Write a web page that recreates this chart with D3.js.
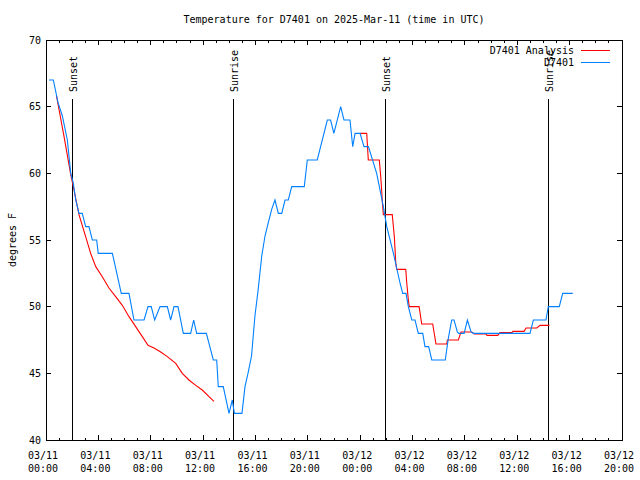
<!DOCTYPE html>
<html>
<head>
<meta charset="utf-8">
<script src="https://cdn.jsdelivr.net/npm/d3@7"></script>
<style>
  html, body { margin: 0; padding: 0; background: #fff; }
  svg { display: block; }
  text { font-family: "DejaVu Sans Mono", "Liberation Mono", monospace; font-size: 10px; fill: #000; }
</style>
</head>
<body>
<svg id="chart" width="640" height="480"></svg>
<script>
// ---- data (hours since 2025-03-11 00:00 UTC, degrees F) ----
const titleText = "Temperature for D7401 on 2025-Mar-11 (time in UTC)";
const yLabel = "degrees F";
const seriesNames = ["D7401 Analysis", "D7401"];

const obsHours = [0.23,0.56,0.92,1.25,1.63,1.89,2.08,2.27,2.52,2.77,3.03,3.28,3.54,3.87,3.99,5.07,5.75,6.34,6.72,7.49,7.79,8.04,8.30,8.71,9.27,9.52,9.78,10.08,10.49,11.05,11.28,11.51,12.25,12.78,13.04,13.16,13.54,13.98,14.23,14.39,14.97,15.20,15.43,15.70,15.96,16.21,16.48,16.73,16.98,17.24,17.49,17.75,18.01,18.26,18.51,18.77,19.73,19.96,20.72,21.49,21.74,21.99,22.51,22.76,23.22,23.43,23.61,23.99,24.29,24.63,25.26,25.77,26.03,26.54,26.82,27.05,27.25,27.50,27.68,27.94,28.19,28.44,28.78,28.95,29.23,29.47,30.50,30.73,30.99,31.17,31.42,31.53,31.94,32.19,32.47,32.64,36.97,37.23,38.19,38.37,39.21,39.47,40.24];
const obsTemps = [67,67,65.3,64.3,62.5,60,59.3,58,57,57,56,56,55,55,54,54,51,51,49,49,50,50,49,50,50,49,50,50,48,48,49,48,48,46,46,44,44,42,43,42,42,44,45,46.3,49.3,51.3,53.8,55.3,56.3,57.3,58,57,57,58,58,59,59,61,61,64,64,63,65,64,64,62,63,63,62,62,60,57.5,56,54,52.75,51.75,51,51,50,49,49,48,48,47,47,46,46,47.6,49,49,48.1,48,48,49,48.1,48,48,49,49,50,50,51,51];

const anaHours1 = [0.80,0.86,1.38,1.89,2.14,2.52,3.03,3.41,3.80,4.30,4.81,5.32,5.83,6.34,6.85,7.36,7.79,8.25,8.76,9.27,9.91,10.41,10.92,11.44,11.94,12.45,12.83];
const anaTemps1 = [65.8,65.5,62.75,59.9,58.75,56.9,55.25,54,53,52.25,51.4,50.75,50.1,49.25,48.5,47.75,47.1,46.9,46.6,46.25,45.75,45.0,44.5,44.1,43.75,43.25,42.9];
const anaHours2 = [23.99,24.50,24.62,25.46,25.57,25.64,25.69,25.77,26.45,26.61,26.72,26.79,27.48,27.56,27.68,27.75,28.50,28.70,29.54,29.79,30.61,30.66,31.50,31.70,32.52,32.72,33.61,33.69,34.51,34.68,35.58,35.67,36.52,36.67,37.49,37.74,38.45];
const anaTemps2 = [63,63,61,61,59.75,58.75,57.9,56.9,56.9,55.25,53.25,52.8,52.8,51.75,50.5,50.0,50.0,48.7,48.7,47.2,47.2,47.5,47.5,48.1,48.1,47.95,47.95,47.85,47.85,48.05,48.05,48.15,48.15,48.4,48.4,48.6,48.6];

const sunHours = [2.06, 14.36, 25.97, 38.35];
const sunLabels = ["Sunset", "Sunrise", "Sunset", "Sunrise"];

const yTicks = [40,45,50,55,60,65,70];
const yDomain = [40, 70];
const xStartHour = 0, xEndHour = 44;

// ---- layout ----
const base = Date.UTC(2025, 2, 11, 0, 0);
const toDate = h => new Date(base + h * 3600000);
const svg = d3.select("#chart");
const L = 46, R = 622, T = 40, B = 440;
const colors = ["#ff0000", "#0080ff"];

const x = d3.scaleUtc().domain([toDate(xStartHour), toDate(xEndHour)]).range([L, R]);
const y = d3.scaleLinear().domain(yDomain).range([B, T]);

const g = svg.append("g").attr("shape-rendering", "crispEdges");

// ticks (inward, mirrored)
const majorX = x.ticks(d3.utcHour.every(4));
const minorX = x.ticks(d3.utcHour.every(1));
minorX.forEach(d => {
  const major = d.getUTCHours() % 4 === 0;
  const len = major ? 5 : 2.5;
  g.append("line").attr("x1", x(d)).attr("x2", x(d)).attr("y1", B).attr("y2", B - len).attr("stroke", "#000");
  g.append("line").attr("x1", x(d)).attr("x2", x(d)).attr("y1", T).attr("y2", T + len).attr("stroke", "#000");
});
yTicks.forEach(v => {
  g.append("line").attr("x1", L).attr("x2", L + 5).attr("y1", y(v)).attr("y2", y(v)).attr("stroke", "#000");
  g.append("line").attr("x1", R).attr("x2", R - 5).attr("y1", y(v)).attr("y2", y(v)).attr("stroke", "#000");
  svg.append("text").attr("x", L - 5).attr("y", y(v)).attr("dy", "0.35em").attr("text-anchor", "end").text(v);
});

const fmtD = d3.utcFormat("%m/%d"), fmtT = d3.utcFormat("%H:%M");
majorX.forEach(d => {
  const t = svg.append("text").attr("text-anchor", "middle").attr("x", x(d) - 3);
  t.append("tspan").attr("x", x(d) - 3).attr("y", 459).text(fmtD(d));
  t.append("tspan").attr("x", x(d) - 3).attr("y", 472).text(fmtT(d));
});

// sunrise/sunset lines
sunHours.forEach((h, i) => {
  g.append("line").attr("x1", x(toDate(h))).attr("x2", x(toDate(h))).attr("y1", 99).attr("y2", B).attr("stroke", "#000");
  svg.append("text").attr("transform", `translate(${x(toDate(h)) + 1},92) rotate(-90)`)
    .attr("dy", "0.35em").attr("text-anchor", "start").text(sunLabels[i]);
});

// data lines
const line = d3.line().x(d => x(toDate(d[0]))).y(d => y(d[1]));
const lineG = svg.append("g").attr("fill", "none").attr("stroke-width", 1.1);
lineG.append("path").attr("d", line(anaHours1.map((h, i) => [h, anaTemps1[i]]))).attr("stroke", colors[0]);
lineG.append("path").attr("d", line(anaHours2.map((h, i) => [h, anaTemps2[i]]))).attr("stroke", colors[0]);
lineG.append("path").attr("d", line(obsHours.map((h, i) => [h, obsTemps[i]]))).attr("stroke", colors[1]);

// border
g.append("rect").attr("x", L).attr("y", T).attr("width", R - L).attr("height", B - T)
  .attr("fill", "none").attr("stroke", "#000");

// title + y label
svg.append("text").attr("x", (L + R) / 2).attr("y", 23).attr("text-anchor", "middle").text(titleText);
svg.append("text").attr("transform", `translate(12,${(T + B) / 2}) rotate(-90)`)
  .attr("text-anchor", "middle").attr("dy", "0.35em").text(yLabel);

// legend
seriesNames.forEach((name, i) => {
  const ly = 50 + i * 12.5;
  svg.append("text").attr("x", 574).attr("y", ly).attr("dy", "0.35em").attr("text-anchor", "end").text(name);
  g.append("line").attr("x1", 581).attr("x2", 610).attr("y1", ly).attr("y2", ly).attr("stroke", colors[i]).attr("stroke-width", 1);
});
</script>
</body>
</html>
